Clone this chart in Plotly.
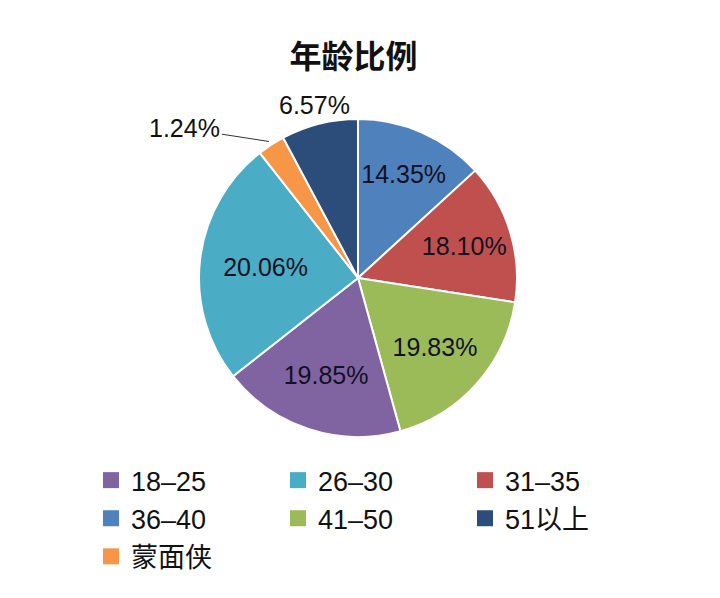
import numpy as np
import plotly.graph_objects as go

# slices in clockwise order from 12 o'clock
labels = ["36–40", "31–35", "41–50", "18–25", "26–30", "蒙面侠", "51以上"]
# printed percentages
pct_labels = ["14.35%", "18.10%", "19.83%", "19.85%", "20.06%", "1.24%", "6.57%"]
# slice sizes as drawn (read from the angles in the picture, they don't match the printed numbers)
slice_share = [13.2, 14.25, 18.25, 18.7, 25.0, 2.8, 7.8]
colors = ["#4F81BD", "#C0504D", "#9BBB59", "#8064A2", "#4BACC6", "#F79646", "#2C4D7A"]
inside = [True, True, True, True, True, False, False]

# legend order as in the picture
legend_order = ["18–25", "26–30", "31–35", "36–40", "41–50", "51以上", "蒙面侠"]

FONT = "Liberation Sans, Arial, Noto Sans CJK SC"
W, H = 720, 598
OFF = 8  # page body margin shifts the whole figure
dom_x = [(199 - OFF) / W, (517 - OFF) / W]
dom_y = [1 - (437 - OFF) / H, 1 - (119 - OFF) / H]

fig = go.Figure()
fig.add_trace(go.Pie(
    labels=labels, values=slice_share, sort=False, direction="clockwise", rotation=0,
    marker=dict(colors=colors, line=dict(color="white", width=2)),
    text=[t if ok else "" for t, ok in zip(pct_labels, inside)],
    textinfo="text", textposition="inside",
    insidetextorientation="horizontal",
    textfont=dict(family=FONT, size=25, color="#111122"),
    showlegend=False, hoverinfo="label+text",
    domain=dict(x=dom_x, y=dom_y),
))

# outside labels for the two small slices
cx = (dom_x[0] + dom_x[1]) / 2 * W
cy = (1 - (dom_y[0] + dom_y[1]) / 2) * H
rad = (dom_x[1] - dom_x[0]) * W / 2
share = np.array(slice_share)
mid = (np.cumsum(share) - share / 2) / share.sum() * 2 * np.pi

def to_paper(r, a):
    px = cx + r * np.sin(a)
    py = cy - r * np.cos(a)
    return px / W, 1 - py / H

# 1.24% with leader line
i = labels.index("蒙面侠")
x0, y0 = to_paper(rad + 4, mid[i])
fig.add_annotation(x=x0, y=y0, xref="paper", yref="paper", text=pct_labels[i],
                   showarrow=True, arrowhead=0, arrowwidth=1, arrowcolor="#333333",
                   ax=-84, ay=-13, standoff=0,
                   font=dict(family=FONT, size=25, color="#111111"))
# 6.57% just outside its slice
i = labels.index("51以上")
x1, y1 = to_paper(rad + 19, mid[i])
fig.add_annotation(x=x1, y=y1, xref="paper", yref="paper", text=pct_labels[i],
                   xanchor="center", yanchor="middle", showarrow=False,
                   font=dict(family=FONT, size=25, color="#111111"))

# dummy traces just for the legend (pie legend can't follow this order)
for name in legend_order:
    fig.add_trace(go.Scatter(
        x=[None], y=[None], mode="markers", name=name,
        marker=dict(symbol="square", size=16, color=colors[labels.index(name)]),
    ))

fig.update_layout(
    width=W, height=H,
    paper_bgcolor="white", plot_bgcolor="white",
    margin=dict(l=0, r=0, t=0, b=0),
    title=dict(text="<b>年龄比例</b>", x=0.480, xanchor="center", y=0.918, yanchor="middle",
               font=dict(family=FONT, size=32, color="#111111")),
    xaxis=dict(visible=False), yaxis=dict(visible=False),
    legend=dict(orientation="h", x=0.1153, xanchor="left", y=0.2507, yanchor="top",
                entrywidth=142, entrywidthmode="pixels",
                font=dict(family=FONT, size=27, color="#111111"),
                itemclick=False),
)

fig.write_html("out.html")
